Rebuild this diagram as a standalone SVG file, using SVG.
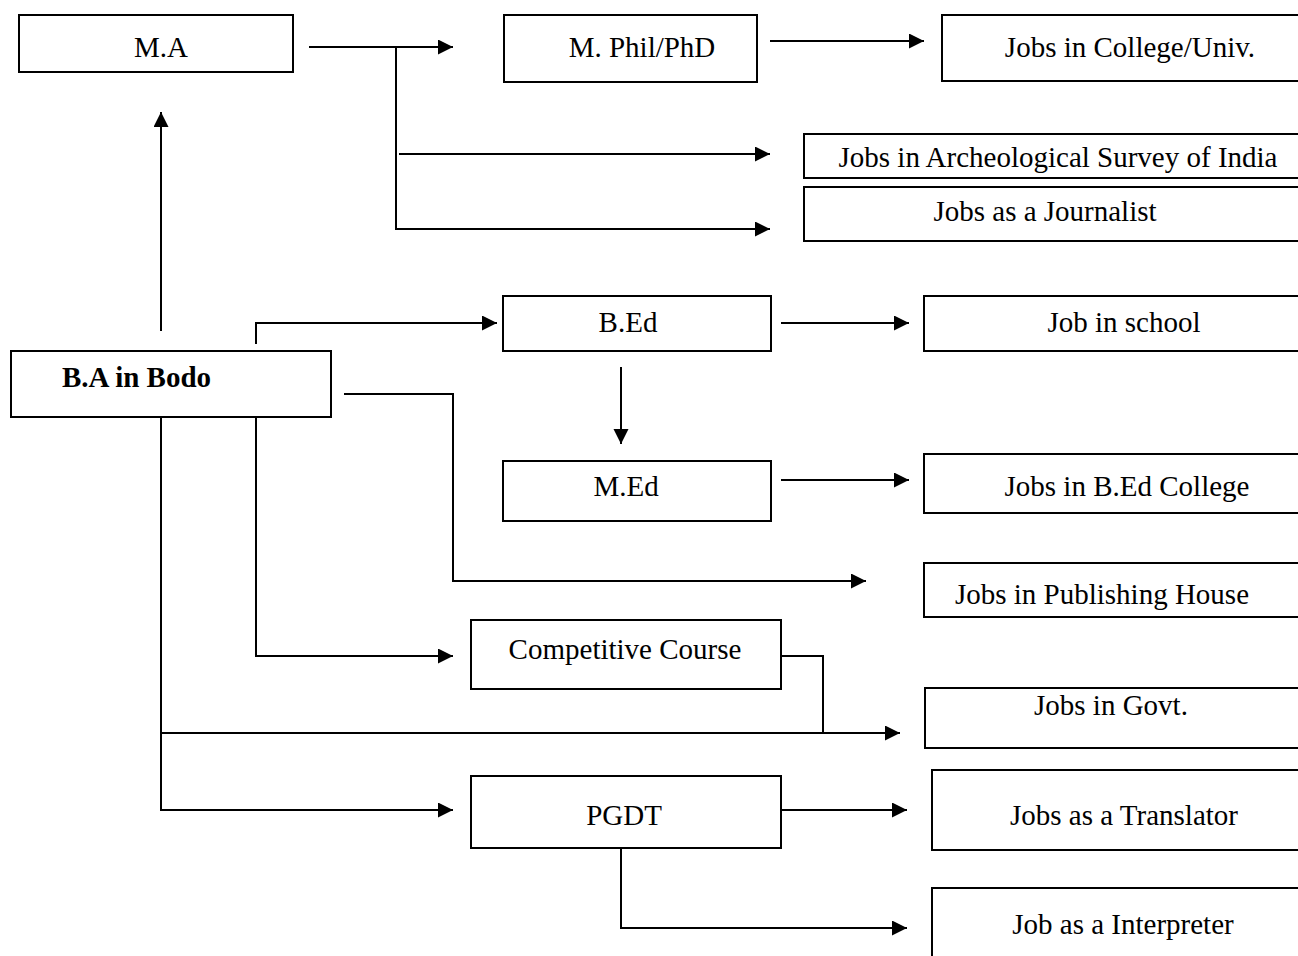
<svg xmlns="http://www.w3.org/2000/svg" width="1298" height="956" viewBox="0 0 1298 956">
<style>
.box{fill:#fff;stroke:#000;stroke-width:2}
.lbl{font-family:"Liberation Serif","Times New Roman",serif;font-size:29px;fill:#000;text-anchor:middle}
.bold{font-weight:bold;text-anchor:start}
.con path{fill:none;stroke:#000;stroke-width:2}
</style>
<defs>
<marker id="ah" markerUnits="userSpaceOnUse" markerWidth="16" markerHeight="16" refX="15" refY="7.5" orient="auto">
<path d="M0,0 L15,7.5 L0,15 z" fill="#000"/>
</marker>
</defs>
<rect width="1298" height="956" fill="#fff"/>
<g class="con">
<path d="M309,47 H453" marker-end="url(#ah)"/>
<path d="M359,47 H396 V229 H770" marker-end="url(#ah)"/>
<path d="M399,154 H770" marker-end="url(#ah)"/>
<path d="M770,41 H924" marker-end="url(#ah)"/>
<path d="M161,331 V112" marker-end="url(#ah)"/>
<path d="M256,344 V323 H497" marker-end="url(#ah)"/>
<path d="M781,323 H909" marker-end="url(#ah)"/>
<path d="M621,367 V444" marker-end="url(#ah)"/>
<path d="M781,480 H909" marker-end="url(#ah)"/>
<path d="M344,394 H453 V581 H866" marker-end="url(#ah)"/>
<path d="M256,417 V656 H453" marker-end="url(#ah)"/>
<path d="M161,417 V810 H453" marker-end="url(#ah)"/>
<path d="M161,733 H900" marker-end="url(#ah)"/>
<path d="M781,656 H823 V733 H870"/>
<path d="M781,810 H907" marker-end="url(#ah)"/>
<path d="M621,848 V928 H907" marker-end="url(#ah)"/>
</g>
<g id="ma"><rect class="box" x="19" y="15" width="274" height="57"/><text class="lbl" x="161" y="57">M.A</text></g>
<g id="mphil"><rect class="box" x="504" y="15" width="253" height="67"/><text class="lbl" x="642" y="57">M. Phil/PhD</text></g>
<g id="college"><rect class="box" x="942" y="15" width="380" height="66"/><text class="lbl" x="1130" y="57">Jobs in College/Univ.</text></g>
<g id="asi"><rect class="box" x="804" y="134" width="520" height="44"/><text class="lbl" x="1058" y="167">Jobs in Archeological Survey of India</text></g>
<g id="journalist"><rect class="box" x="804" y="187" width="520" height="54"/><text class="lbl" x="1045" y="221">Jobs as a Journalist</text></g>
<g id="bed"><rect class="box" x="503" y="296" width="268" height="55"/><text class="lbl" x="628" y="332">B.Ed</text></g>
<g id="school"><rect class="box" x="924" y="296" width="400" height="55"/><text class="lbl" x="1124" y="332">Job in school</text></g>
<g id="ba"><rect class="box" x="11" y="351" width="320" height="66"/><text class="lbl bold" x="62" y="387">B.A in Bodo</text></g>
<g id="med"><rect class="box" x="503" y="461" width="268" height="60"/><text class="lbl" x="626" y="496">M.Ed</text></g>
<g id="bedcollege"><rect class="box" x="924" y="454" width="400" height="59"/><text class="lbl" x="1127" y="496">Jobs in B.Ed College</text></g>
<g id="publishing"><rect class="box" x="924" y="563" width="400" height="54"/><text class="lbl" x="1102" y="604">Jobs in Publishing House</text></g>
<g id="competitive"><rect class="box" x="471" y="620" width="310" height="69"/><text class="lbl" x="625" y="659">Competitive Course</text></g>
<g id="govt"><rect class="box" x="925" y="688" width="400" height="60"/><text class="lbl" x="1111" y="715">Jobs in Govt.</text></g>
<g id="pgdt"><rect class="box" x="471" y="776" width="310" height="72"/><text class="lbl" x="624" y="825">PGDT</text></g>
<g id="translator"><rect class="box" x="932" y="770" width="400" height="80"/><text class="lbl" x="1124" y="825">Jobs as a Translator</text></g>
<g id="interpreter"><rect class="box" x="932" y="888" width="400" height="100"/><text class="lbl" x="1123" y="934">Job as a Interpreter</text></g>
</svg>
